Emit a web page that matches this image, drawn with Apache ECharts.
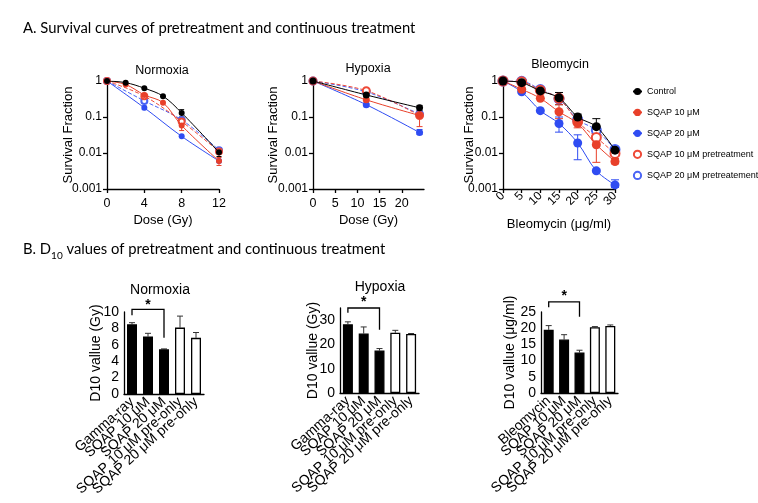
<!DOCTYPE html>
<html>
<head>
<meta charset="utf-8">
<script src="https://cdn.jsdelivr.net/npm/echarts@6/dist/echarts.min.js"></script>
<style>html,body{margin:0;padding:0;background:#fff}#c{width:758px;height:503px}</style>
</head>
<body>
<div id="c"></div>
<script>
// ================= DATA =================
const seriesNames = ['Control', 'SQAP 10 μM', 'SQAP 20 μM', 'SQAP 10 μM pretreatment', 'SQAP 20 μM pretreatement'];

// Normoxia: [dose (Gy), survival fraction]
const normoxiaControl   = [[0, 1], [2, 0.9], [4, 0.63], [6, 0.38], [8, 0.13], [12, 0.0105]];
const normoxiaSqap10    = [[0, 1], [2, 0.8], [4, 0.41], [6, 0.25], [8, 0.058], [12, 0.006]];
const normoxiaSqap20    = [[0, 1], [4, 0.18], [8, 0.029], [12, 0.006]];
const normoxiaSqap10Pre = [[0, 1], [4, 0.38], [8, 0.075], [12, 0.011]];
const normoxiaSqap20Pre = [[0, 1], [4, 0.28], [8, 0.083], [12, 0.012]];
// [dose, low, high, series index]
const normoxiaErr = [[8, 0.1, 0.16, 0], [12, 0.008, 0.013, 0], [8, 0.042, 0.083, 1], [12, 0.0045, 0.0075, 1], [4, 0.16, 0.2, 2], [12, 0.011, 0.013, 4]];

// Hypoxia
const hypoxiaControl   = [[0, 1], [12, 0.41], [24, 0.18]];
const hypoxiaSqap10    = [[0, 1], [12, 0.3], [24, 0.11]];
const hypoxiaSqap20    = [[0, 1], [12, 0.22], [24, 0.037]];
const hypoxiaSqap10Pre = [[0, 1], [12, 0.54], [24, 0.11]];
const hypoxiaSqap20Pre = [[0, 1], [12, 0.5], [24, 0.12]];
const hypoxiaErr = [[24, 0.15, 0.21, 0], [24, 0.054, 0.14, 1], [24, 0.033, 0.045, 2]];

// Bleomycin: [µg/ml, survival fraction]
const bleoControl   = [[0, 1], [5, 0.9], [10, 0.53], [15, 0.34], [20, 0.1], [25, 0.054], [30, 0.012]];
const bleoSqap10    = [[0, 1], [5, 0.59], [10, 0.33], [15, 0.14], [20, 0.066], [25, 0.017], [30, 0.0058]];
const bleoSqap20    = [[0, 1], [5, 0.5], [10, 0.15], [15, 0.066], [20, 0.019], [25, 0.0032], [30, 0.0013]];
const bleoSqap10Pre = [[0, 1], [5, 0.95], [10, 0.55], [15, 0.33], [20, 0.074], [25, 0.027], [30, 0.0097]];
const bleoSqap20Pre = [[0, 1], [5, 0.98], [10, 0.58], [15, 0.32], [20, 0.085], [25, 0.043], [30, 0.0125]];
const bleoErr = [[15, 0.22, 0.48, 0], [20, 0.08, 0.12, 0], [25, 0.03, 0.09, 0],
                 [15, 0.09, 0.22, 1], [20, 0.05, 0.09, 1], [25, 0.0055, 0.03, 1], [30, 0.005, 0.007, 1],
                 [15, 0.038, 0.1, 2], [20, 0.0065, 0.032, 2], [25, 0.003, 0.0036, 2], [30, 0.0011, 0.0018, 2],
                 [25, 0.02, 0.035, 3]];

const xTicksHypoxia = [0, 5, 10, 15, 20];

// D10 bar charts
const radCategories  = ['Gamma-ray', 'SQAP 10 μM', 'SQAP 20 μM', 'SQAP 10 μM pre-only', 'SQAP 20 μM pre-only'];
const bleoCategories = ['Bleomycin', 'SQAP 10 μM', 'SQAP 20 μM', 'SQAP 10 μM pre-only', 'SQAP 20 μM pre-only'];
const normD10     = [8.5, 7.0, 5.45, 8.1, 6.85];
const normD10Hi   = [8.7, 7.4, 5.5, 9.5, 7.5];
const hypD10      = [28.3, 24.5, 17.5, 24.8, 24.3];
const hypD10Hi    = [29.3, 27.2, 18.3, 25.8, 24.5];
const bleoD10     = [19.5, 16.5, 12.5, 20.3, 20.7];
const bleoD10Hi   = [20.8, 18.0, 13.2, 20.5, 21.0];
const hypYTicks   = [0, 10, 20, 30];
// [from cat, to cat, top, left leg end, right leg end, star level]
const normSig = [[0, 2, 10.33, 9.6, 6.85, 10.85]];
const hypSig  = [[0, 2, 35, 33, 26, 37.3]];
const bleoSig = [[0, 2, 28.1, 26.5, 23.5, 29.9]];

// ================= STYLE / BUILD =================
const FONT = 'Liberation Sans, Arial, sans-serif';
const palette = ['#000000', '#e8402a', '#2f4cf2', '#ee4a38', '#4a64f5'];

const axisLine = { lineStyle: { color: '#000', width: 1.3 } };
const axisTick = { length: 4, lineStyle: { color: '#000', width: 1.3 } };

function logY(gi, nameGap) {
  return {
    type: 'log', logBase: 10, gridIndex: gi, min: 0.001, max: 1,
    name: 'Survival Fraction', nameLocation: 'middle', nameGap: nameGap, nameMoveOverlap: false,
    nameTextStyle: { fontFamily: FONT, fontSize: 13, color: '#000' },
    axisLine: Object.assign({ show: true }, axisLine), axisTick: axisTick,
    axisLabel: { color: '#000', fontFamily: FONT, fontSize: 12, margin: 5,
      formatter: v => String(parseFloat(Number(v).toPrecision(2))) },
    splitLine: { show: false }, minorTick: { show: false }
  };
}

function errRender(capHalf) {
  return function (params, api) {
    const x = api.value(0), lo = api.value(1), hi = api.value(2), g = api.value(3);
    const a = api.coord([x, lo]), b = api.coord([x, hi]);
    const st = { stroke: palette[g], lineWidth: 1 };
    return { type: 'group', children: [
      { type: 'line', shape: { x1: a[0], y1: a[1], x2: b[0], y2: b[1] }, style: st },
      { type: 'line', shape: { x1: a[0] - capHalf, y1: a[1], x2: a[0] + capHalf, y2: a[1] }, style: st },
      { type: 'line', shape: { x1: b[0] - capHalf, y1: b[1], x2: b[0] + capHalf, y2: b[1] }, style: st }
    ] };
  };
}

function lineSet(gi, sets, errData, symSize, capHalf) {
  const order = [4, 3, 2, 1, 0];
  const out = order.map(i => ({
    type: 'line', name: seriesNames[i], xAxisIndex: gi, yAxisIndex: gi,
    data: sets[i], smooth: 0.35,
    symbol: i >= 3 ? 'emptyCircle' : 'circle', symbolSize: symSize,
    itemStyle: { color: palette[i], borderWidth: 1.2 },
    lineStyle: { color: palette[i], width: 1, type: i >= 3 ? 'dashed' : 'solid' },
    z: 3 + (4 - i), silent: true
  }));
  out.push({ type: 'custom', xAxisIndex: gi, yAxisIndex: gi, data: errData,
    renderItem: errRender(capHalf), z: 2, silent: true });
  return out;
}

function barY(gi, max, interval, name, nameGap, ticks) {
  const o = {
    type: 'value', gridIndex: gi, min: 0, max: max, interval: interval,
    name: name, nameLocation: 'middle', nameGap: nameGap, nameMoveOverlap: false,
    nameTextStyle: { fontFamily: FONT, fontSize: 14, color: '#000' },
    axisLine: Object.assign({ show: true }, axisLine), axisTick: Object.assign({}, axisTick),
    axisLabel: { color: '#000', fontFamily: FONT, fontSize: 14, margin: 5 },
    splitLine: { show: false }
  };
  if (ticks) { o.axisLabel.customValues = ticks; o.axisTick.customValues = ticks; }
  return o;
}
function barX(gi, cats) {
  return {
    type: 'category', gridIndex: gi, data: cats,
    axisLine: axisLine, axisTick: Object.assign({ alignWithLabel: true }, axisTick),
    axisLabel: { color: '#000', fontFamily: FONT, fontSize: 14, rotate: 42, margin: 6, interval: 0 }
  };
}
function barSet(gi, vals, his, sig) {
  return [
    { type: 'bar', xAxisIndex: gi, yAxisIndex: gi, barWidth: 10, silent: true,
      data: vals.map((v, i) => ({ value: v, itemStyle: { color: i < 3 ? '#000' : '#fff' } })),
      itemStyle: { borderColor: '#000', borderWidth: 1.3 } },
    { type: 'custom', xAxisIndex: gi, yAxisIndex: gi, silent: true, z: 1,
      data: vals.map((v, i) => [i, v, his[i]]),
      renderItem: function (params, api) {
        const a = api.coord([api.value(0), api.value(1)]), b = api.coord([api.value(0), api.value(2)]);
        const st = { stroke: '#333', lineWidth: 1 };
        return { type: 'group', children: [
          { type: 'line', shape: { x1: a[0], y1: a[1], x2: b[0], y2: b[1] }, style: st },
          { type: 'line', shape: { x1: b[0] - 3, y1: b[1], x2: b[0] + 3, y2: b[1] }, style: st }
        ] };
      } },
    { type: 'custom', xAxisIndex: gi, yAxisIndex: gi, silent: true, clip: false,
      data: sig,
      renderItem: function (params, api) {
        const c0 = api.value(0), c1 = api.value(1), top = api.value(2), l = api.value(3), r = api.value(4), s = api.value(5);
        const pL = api.coord([c0, top]), pR = api.coord([c1, top]);
        const lB = api.coord([c0, l]), rB = api.coord([c1, r]);
        const pS = api.coord([(c0 + c1) / 2, s]);
        const st = { stroke: '#000', lineWidth: 1.3, fill: null };
        return { type: 'group', children: [
          { type: 'polyline', shape: { points: [[lB[0], lB[1]], [pL[0], pL[1]], [pR[0], pR[1]], [rB[0], rB[1]]] }, style: st },
          { type: 'text', x: pS[0], y: pS[1], style: { text: '*', align: 'center', verticalAlign: 'middle', font: 'bold 14px ' + FONT, fill: '#000' } }
        ] };
      } }
  ];
}

const option = {
  animation: false,
  backgroundColor: '#fff',
  graphic: [
    { type: 'text', left: 23, top: 21, style: { text: 'A. Survival curves of pretreatment and continuous treatment', font: '14.8px Lato, "Open Sans", sans-serif', fill: '#000' } },
    { type: 'text', left: 23, top: 242, style: { text: '{a|B. D}{s|10}{a| values of pretreatment and continuous treatment}', fill: '#000',
        rich: { a: { fontSize: 14.8, fontFamily: 'Lato, "Open Sans", sans-serif', lineHeight: 18, verticalAlign: 'top' },
                s: { fontSize: 10, fontFamily: 'Lato, "Open Sans", sans-serif', lineHeight: 10, verticalAlign: 'top', padding: [9, 0, 0, 0] } } } },
    { type: 'text', x: 162, y: 71, style: { text: 'Normoxia', align: 'center', verticalAlign: 'middle', font: '12.5px ' + FONT, fill: '#000' } },
    { type: 'text', x: 368, y: 69, style: { text: 'Hypoxia', align: 'center', verticalAlign: 'middle', font: '12.5px ' + FONT, fill: '#000' } },
    { type: 'text', x: 560, y: 65, style: { text: 'Bleomycin', align: 'center', verticalAlign: 'middle', font: '12.5px ' + FONT, fill: '#000' } },
    { type: 'text', x: 160, y: 290, style: { text: 'Normoxia', align: 'center', verticalAlign: 'middle', font: '14px ' + FONT, fill: '#000' } },
    { type: 'text', x: 380, y: 287, style: { text: 'Hypoxia', align: 'center', verticalAlign: 'middle', font: '14px ' + FONT, fill: '#000' } }
  ],
  legend: {
    orient: 'vertical', left: 632, top: 87, padding: 0, itemGap: 11.9, itemWidth: 9, itemHeight: 9,
    selectedMode: false, data: seriesNames,
    textStyle: { fontFamily: FONT, fontSize: 9, color: '#000' }
  },
  grid: [
    { left: 107, top: 81, width: 112, height: 108 },
    { left: 313, top: 81, width: 111, height: 108 },
    { left: 503, top: 81, width: 112, height: 108 },
    { left: 124, top: 312, width: 80, height: 82 },
    { left: 340, top: 308, width: 79, height: 85 },
    { left: 541, top: 312, width: 77, height: 81 }
  ],
  xAxis: [
    { type: 'value', gridIndex: 0, min: 0, max: 12, interval: 4, name: 'Dose (Gy)', nameLocation: 'middle', nameGap: 25, nameMoveOverlap: false,
      nameTextStyle: { fontFamily: FONT, fontSize: 13, color: '#000' },
      axisLine: axisLine, axisTick: axisTick, splitLine: { show: false },
      axisLabel: { color: '#000', fontFamily: FONT, fontSize: 12.5, margin: 8 } },
    { type: 'value', gridIndex: 1, min: 0, max: 25, interval: 5, name: 'Dose (Gy)', nameLocation: 'middle', nameGap: 25, nameMoveOverlap: false,
      nameTextStyle: { fontFamily: FONT, fontSize: 13, color: '#000' },
      axisLine: axisLine, axisTick: Object.assign({ customValues: xTicksHypoxia }, axisTick), splitLine: { show: false },
      axisLabel: { color: '#000', fontFamily: FONT, fontSize: 12.5, margin: 8, customValues: xTicksHypoxia } },
    { type: 'value', gridIndex: 2, min: 0, max: 30, interval: 5, name: 'Bleomycin (μg/ml)', nameLocation: 'middle', nameGap: 29, nameMoveOverlap: false,
      nameTextStyle: { fontFamily: FONT, fontSize: 13, color: '#000' },
      axisLine: axisLine, axisTick: axisTick, splitLine: { show: false },
      axisLabel: { color: '#000', fontFamily: FONT, fontSize: 12, margin: 5, rotate: 45 } },
    barX(3, radCategories),
    barX(4, radCategories),
    barX(5, bleoCategories)
  ],
  yAxis: [
    logY(0, 32), logY(1, 33), logY(2, 27),
    barY(3, 10, 2, 'D10 vallue (Gy)', 21),
    barY(4, 35, 10, 'D10 vallue (Gy)', 20, hypYTicks),
    barY(5, 25, 5, 'D10 vallue (μg/ml)', 24)
  ],
  series: [].concat(
    lineSet(0, [normoxiaControl, normoxiaSqap10, normoxiaSqap20, normoxiaSqap10Pre, normoxiaSqap20Pre], normoxiaErr, 6, 2.5),
    lineSet(1, [hypoxiaControl, hypoxiaSqap10, hypoxiaSqap20, hypoxiaSqap10Pre, hypoxiaSqap20Pre], hypoxiaErr, 7, 3),
    lineSet(2, [bleoControl, bleoSqap10, bleoSqap20, bleoSqap10Pre, bleoSqap20Pre], bleoErr, 9, 4),
    barSet(3, normD10, normD10Hi, normSig),
    barSet(4, hypD10, hypD10Hi, hypSig),
    barSet(5, bleoD10, bleoD10Hi, bleoSig)
  )
};

const chart = echarts.init(document.getElementById('c'), null, { renderer: 'canvas' });
chart.setOption(option);
</script>
</body>
</html>
